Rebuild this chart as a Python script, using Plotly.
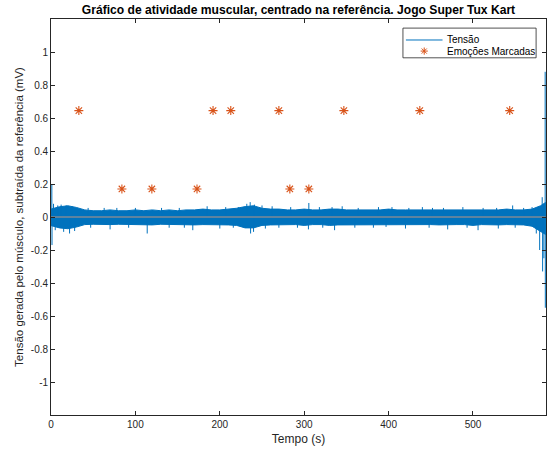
import plotly.graph_objects as go

# Envelope of the muscle-tension signal (mV), sampled every 10 s
t_env = [0, 10, 20, 30, 40, 50, 60, 70, 80, 90, 100, 110, 120, 130, 140, 150,
         160, 170, 180, 190, 200, 210, 220, 230, 240, 250, 260, 270, 280, 290,
         300, 310, 320, 330, 340, 350, 360, 370, 380, 390, 400, 410, 420, 430,
         440, 450, 460, 470, 480, 490, 500, 510, 520, 530, 540, 550, 560, 570,
         580, 586]
upper_env = [0.048, 0.062, 0.068, 0.058, 0.043, 0.038, 0.038, 0.043, 0.038,
             0.038, 0.043, 0.038, 0.043, 0.038, 0.043, 0.038, 0.043, 0.043,
             0.048, 0.043, 0.043, 0.048, 0.053, 0.063, 0.068, 0.053, 0.048,
             0.048, 0.043, 0.043, 0.048, 0.043, 0.043, 0.048, 0.048, 0.043,
             0.043, 0.043, 0.043, 0.043, 0.048, 0.043, 0.043, 0.043, 0.043,
             0.043, 0.043, 0.043, 0.043, 0.043, 0.043, 0.043, 0.043, 0.043,
             0.048, 0.043, 0.043, 0.048, 0.068, 0.088]
lower_env = [-0.052, -0.066, -0.071, -0.061, -0.046, -0.044, -0.044, -0.046,
             -0.044, -0.044, -0.046, -0.046, -0.048, -0.044, -0.046, -0.044,
             -0.046, -0.048, -0.046, -0.046, -0.046, -0.048, -0.051, -0.066,
             -0.066, -0.051, -0.048, -0.046, -0.046, -0.046, -0.051, -0.046,
             -0.046, -0.051, -0.048, -0.046, -0.046, -0.046, -0.046, -0.046,
             -0.046, -0.046, -0.048, -0.046, -0.046, -0.046, -0.048, -0.048,
             -0.046, -0.046, -0.051, -0.046, -0.046, -0.048, -0.046, -0.046,
             -0.048, -0.056, -0.086, -0.106]

# Isolated peaks of the signal (time in s, tension in mV)
spike_t = [1, 3, 8, 12, 18, 25, 44, 63, 78, 100, 131, 152, 185, 207, 222,
           232, 236, 241, 250, 262, 284, 305.5, 318, 333, 345, 364, 388, 404,
           424, 440, 452, 465, 488, 512, 528, 547, 560, 570, 582, 585.5,
           1.2, 5, 15, 22, 28, 47, 70, 92, 114, 140, 158, 168, 200, 216,
           236.5, 240, 254, 270, 292, 305, 322, 336, 360, 382, 397, 420, 448,
           470, 493, 506, 530, 550, 575, 579, 582.5, 584, 585.7]
spike_v = [0.20, 0.08, 0.07, 0.075, 0.07, 0.065, 0.055, 0.055, 0.055, 0.055,
           0.055, 0.055, 0.065, 0.06, 0.06, 0.08, 0.09, 0.075, 0.07, 0.065,
           0.06, 0.085, 0.06, 0.06, 0.065, 0.055, 0.06, 0.06, 0.055, 0.06,
           0.055, 0.055, 0.06, 0.055, 0.055, 0.07, 0.055, 0.06, 0.12, 0.88,
           -0.17, -0.08, -0.09, -0.10, -0.085, -0.065, -0.075, -0.065, -0.10,
           -0.065, -0.065, -0.08, -0.07, -0.065, -0.10, -0.09, -0.07, -0.065,
           -0.065, -0.075, -0.065, -0.08, -0.065, -0.065, -0.06, -0.07,
           -0.065, -0.075, -0.065, -0.08, -0.07, -0.065, -0.10, -0.20, -0.33,
           -0.25, -0.55]

# Marked emotions (time in s, marker level)
emo_t = [33, 84, 119.5, 173, 192, 213, 270, 283, 305.5, 347, 437, 543.5]
emo_v = [0.645, 0.17, 0.17, 0.17, 0.645, 0.645, 0.645, 0.17, 0.17, 0.645,
         0.645, 0.645]

legend_labels = ["Tensão", "Emoções Marcadas"]

BLUE = "#0072BD"
ORANGE = "#D95319"
AXC = "#262626"
FONT = "Liberation Sans, Arial, sans-serif"

# Band outline followed by the individual peaks
xs = list(t_env) + list(reversed(t_env)) + [t_env[0]]
ys = list(upper_env) + list(reversed(lower_env)) + [upper_env[0]]
for t, v in zip(spike_t, spike_v):
    xs += [None, t, t]
    ys += [None, 0, v]

fig = go.Figure()
fig.add_trace(go.Scatter(
    x=xs, y=ys, mode="lines", fill="toself", fillcolor=BLUE,
    line=dict(color=BLUE, width=1), name=legend_labels[0],
    showlegend=False, hoverinfo="skip"))
# mean level through the middle of the band
fig.add_trace(go.Scatter(
    x=[t_env[0], t_env[-1]], y=[0, 0], mode="lines",
    line=dict(color="#7d8a96", width=1.6), showlegend=False, hoverinfo="skip"))
fig.add_trace(go.Scatter(
    x=emo_t, y=emo_v, mode="markers", name=legend_labels[1], showlegend=False,
    marker=dict(symbol="asterisk-open", size=7.5,
                line=dict(color=ORANGE, width=1.1), color=ORANGE)))

# Compact boxed legend in the upper-right corner (axes-fraction coordinates)
box = dict(x0=0.711, x1=0.980, y0=0.902, y1=0.977)
row_y = [0.947, 0.919]
fig.add_shape(type="rect", xref="paper", yref="paper", **box,
              line=dict(color=AXC, width=0.8), fillcolor="white", layer="below")
fig.add_shape(type="line", xref="paper", yref="paper",
              x0=0.717, x1=0.791, y0=row_y[0], y1=row_y[0],
              line=dict(color=BLUE, width=1), layer="above")
fig.add_trace(go.Scatter(
    x=[0.754], y=[row_y[1]], xaxis="x2", yaxis="y2", mode="markers",
    showlegend=False, hoverinfo="skip",
    marker=dict(symbol="asterisk-open", size=6,
                line=dict(color=ORANGE, width=1), color=ORANGE)))
for label, yy in zip(legend_labels, row_y):
    fig.add_annotation(x=0.795, y=yy, xref="paper", yref="paper",
                       text=label, showarrow=False, xanchor="left",
                       yanchor="middle",
                       font=dict(family=FONT, size=10, color="#000000"))

axis_common = dict(
    showline=True, linecolor=AXC, linewidth=0.8, mirror="ticks",
    ticks="inside", ticklen=4, tickwidth=0.8, tickcolor=AXC,
    showgrid=False, zeroline=False,
    tickfont=dict(family=FONT, size=10, color=AXC),
)

fig.update_layout(
    width=547, height=455,
    margin=dict(l=51, r=1, t=19, b=40),
    paper_bgcolor="white", plot_bgcolor="white",
    font=dict(family=FONT, size=10, color=AXC),
    title=dict(
        text="<b>Gráfico de atividade muscular, centrado na referência. Jogo Super Tux Kart</b>",
        x=0.5, xref="paper", xanchor="center", y=0.978, yanchor="middle",
        font=dict(family=FONT, size=12.1, color="#000000")),
    xaxis=dict(range=[0, 586.5], tickvals=[0, 100, 200, 300, 400, 500],
               title=dict(text="Tempo (s)", standoff=5,
                          font=dict(family=FONT, size=12, color=AXC)),
               **axis_common),
    yaxis=dict(range=[-1.2, 1.2],
               tickvals=[-1, -0.8, -0.6, -0.4, -0.2, 0, 0.2, 0.4, 0.6, 0.8, 1],
               ticktext=["-1", "-0.8", "-0.6", "-0.4", "-0.2", "0", "0.2",
                         "0.4", "0.6", "0.8", "1"],
               title=dict(text="Tensão gerada pelo músculo, subtraída da referência (mV)",
                          standoff=4,
                          font=dict(family=FONT, size=11.5, color=AXC)),
               **axis_common),
    xaxis2=dict(overlaying="x", range=[0, 1], visible=False),
    yaxis2=dict(overlaying="y", range=[0, 1], visible=False),
    showlegend=False,
)

fig.write_html("out.html")
